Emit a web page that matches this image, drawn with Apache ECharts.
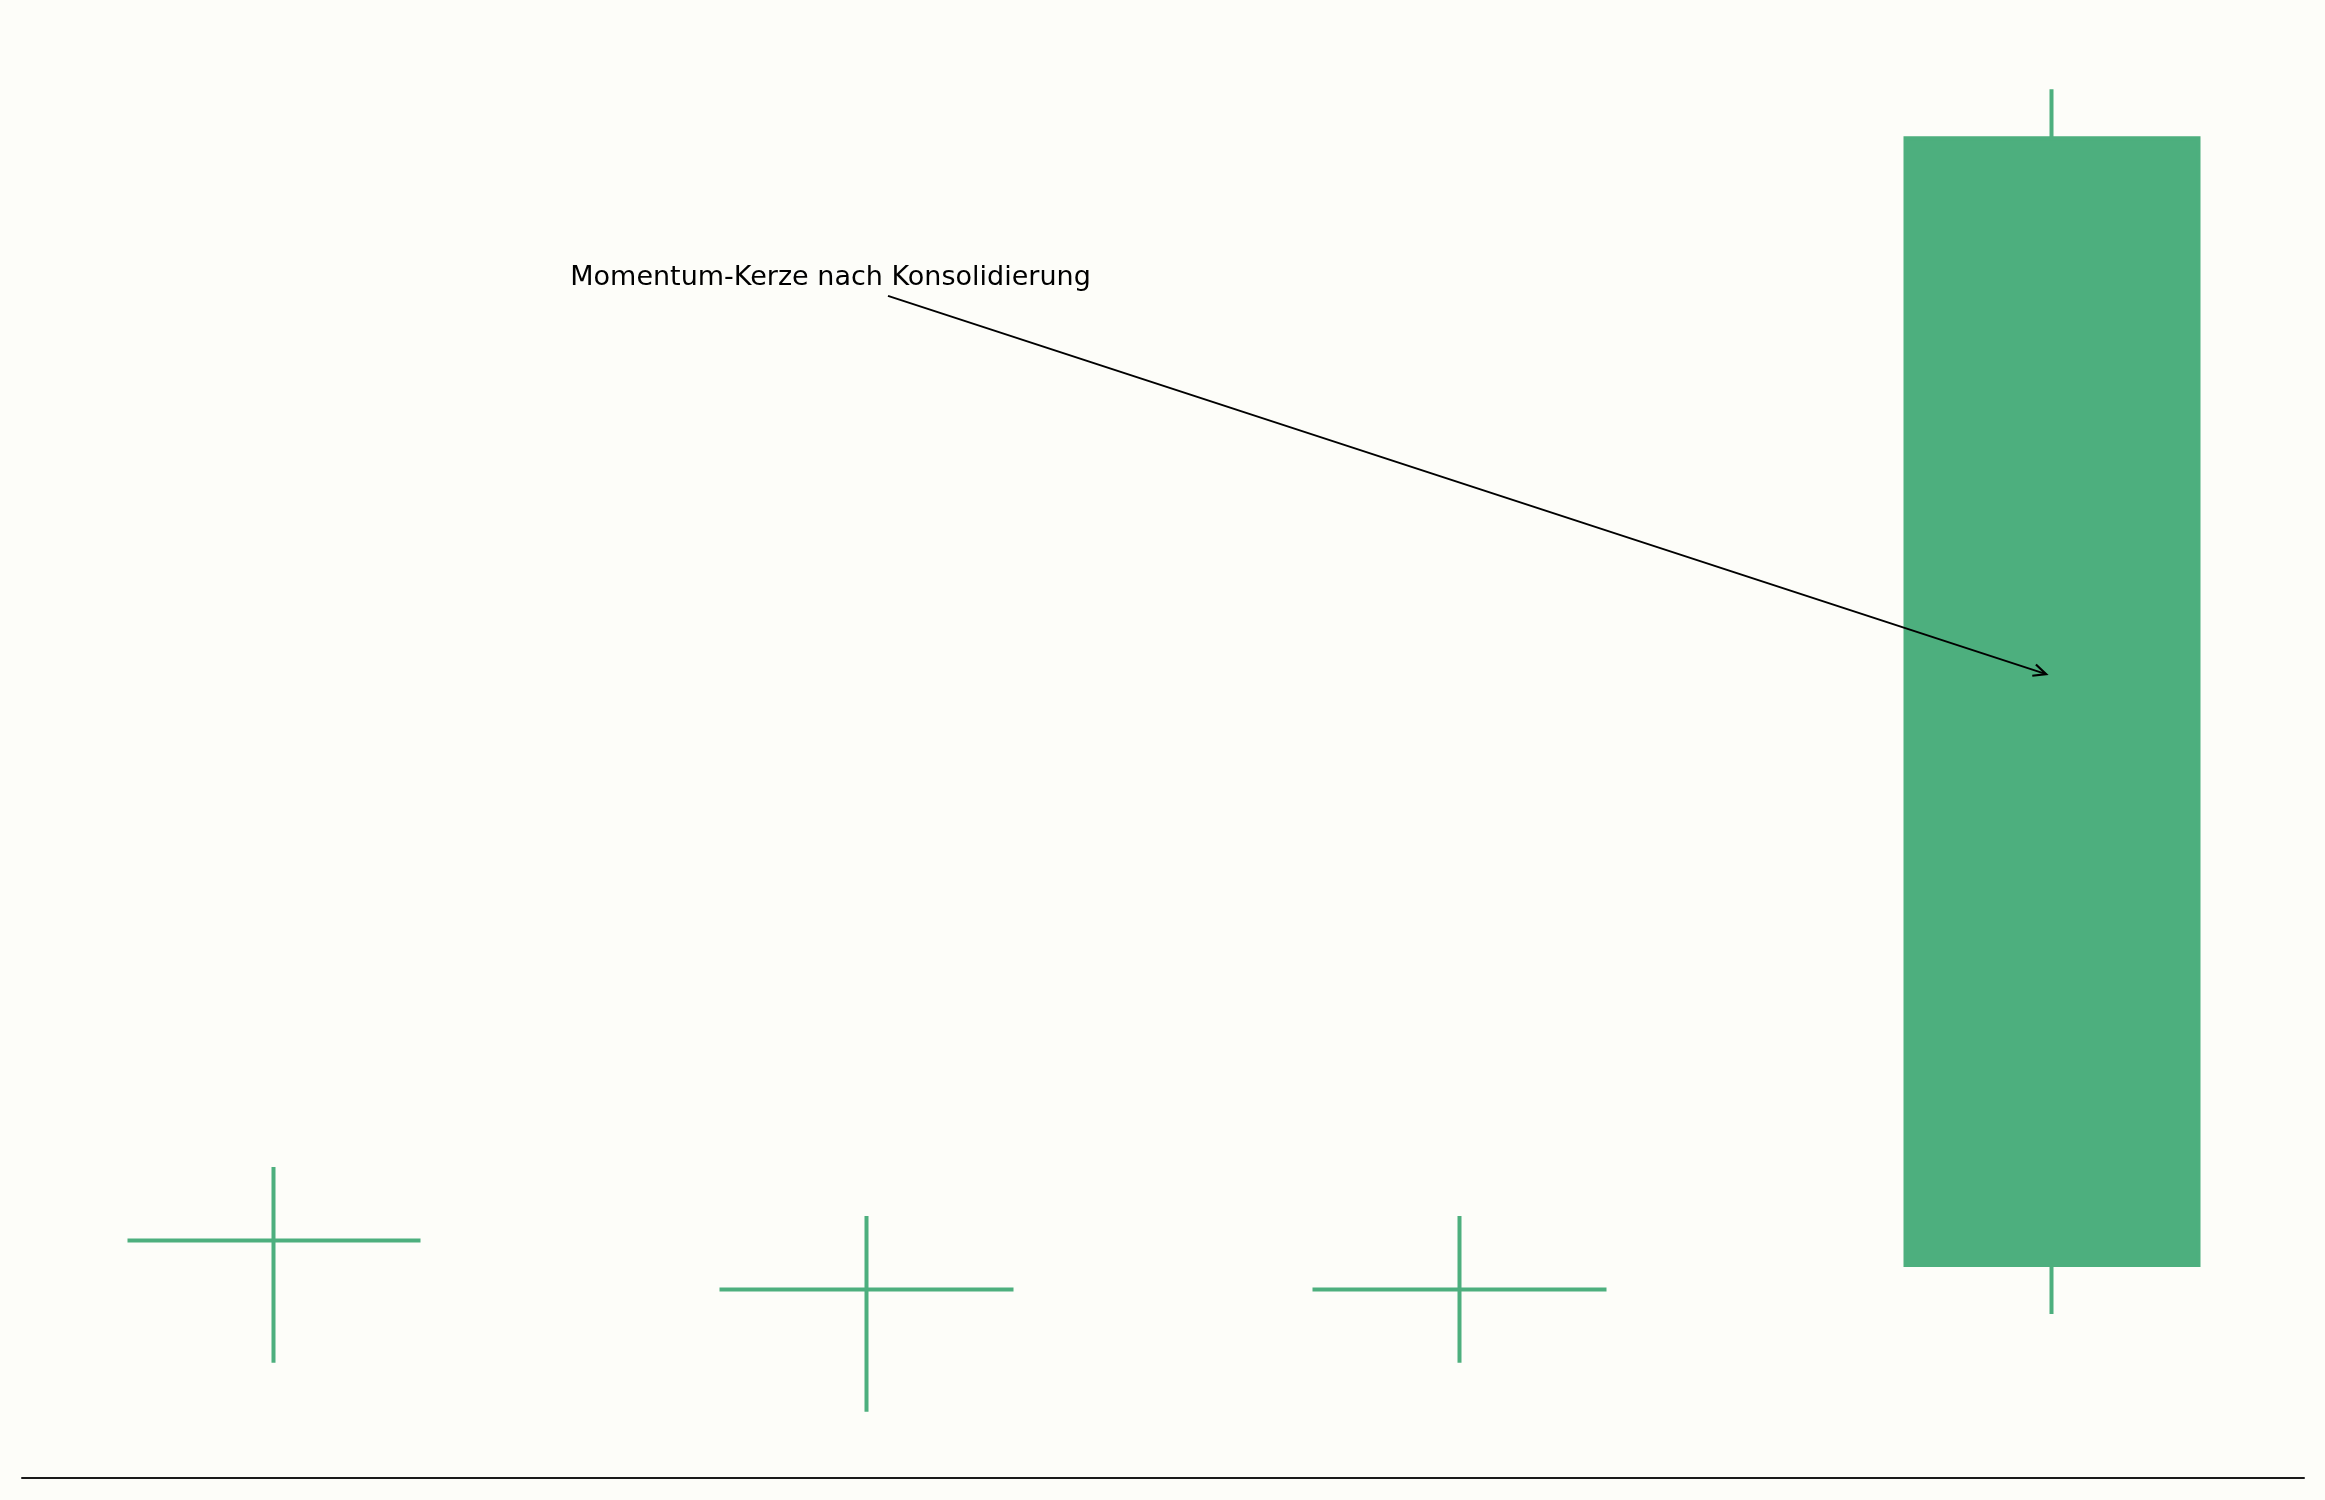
<!DOCTYPE html>
<html>
<head>
<meta charset="utf-8">
<title>Momentum-Kerze</title>
<script src="https://cdn.jsdelivr.net/npm/echarts@6.0.0/dist/echarts.min.js"></script>
<style>
  html, body { margin: 0; padding: 0; background: #fdfdf9; }
  #main { width: 2325px; height: 1500px; }
</style>
</head>
<body>
<div id="main"></div>
<script>
// Kerzen: Position, Eröffnung, Schluss, Tief, Hoch
const candleX = [0, 1, 2, 3];
const openValues = [101, 100, 100, 100.5];
const closeValues = [101, 100, 100, 123.5];
const lowValues = [98.5, 97.5, 98.5, 99.5];
const highValues = [102.5, 101.5, 101.5, 124.5];

// Achsenbereiche (inkl. Rand wie im Original)
const xRange = [-0.425, 3.425];
const yRange = [96.15, 125.85];

// Annotation
const annotationText = 'Momentum-Kerze nach Konsolidierung';
const annotationTextPos = [0.5, 120.5];
const arrowStart = [1.036, 120.28];
const arrowEnd = [2.99, 112.56];

const GREEN = '#4daf7e';

const chart = echarts.init(document.getElementById('main'));

const candleData = candleX.map((x, i) => [x, openValues[i], closeValues[i], lowValues[i], highValues[i]]);

const option = {
  backgroundColor: '#fdfdf9',
  animation: false,
  grid: { left: 22, right: 21, top: 23, bottom: 22 },
  xAxis: {
    type: 'value',
    min: xRange[0],
    max: xRange[1],
    axisLine: { show: true, lineStyle: { color: '#1a1a1a', width: 2 } },
    axisTick: { show: false },
    axisLabel: { show: false },
    splitLine: { show: false },
  },
  yAxis: {
    type: 'value',
    min: yRange[0],
    max: yRange[1],
    axisLine: { show: false },
    axisTick: { show: false },
    axisLabel: { show: false },
    splitLine: { show: false },
  },
  series: [
    {
      type: 'candlestick',
      data: candleData,
      barWidth: 294,
      itemStyle: {
        color: GREEN,
        color0: GREEN,
        borderColor: GREEN,
        borderColor0: GREEN,
        borderColorDoji: GREEN,
        borderWidth: 4,
      },
    },
  ],
};

chart.setOption(option);

// Text und Pfeil über die Skalen des Diagramms platzieren
const tp = chart.convertToPixel({ gridIndex: 0 }, annotationTextPos);
const p0 = chart.convertToPixel({ gridIndex: 0 }, arrowStart);
const p1 = chart.convertToPixel({ gridIndex: 0 }, arrowEnd);
const ang = Math.atan2(p1[1] - p0[1], p1[0] - p0[0]);
const armLen = 14;
const halfAngle = 25 * Math.PI / 180;
const arm1 = [p1[0] - armLen * Math.cos(ang - halfAngle), p1[1] - armLen * Math.sin(ang - halfAngle)];
const arm2 = [p1[0] - armLen * Math.cos(ang + halfAngle), p1[1] - armLen * Math.sin(ang + halfAngle)];

chart.setOption({
  graphic: [
    {
      type: 'text',
      z: 100,
      x: tp[0],
      y: tp[1] - 7,
      style: {
        text: annotationText,
        font: '27px "DejaVu Sans"',
        fill: '#000',
        align: 'left',
        verticalAlign: 'middle',
      },
    },
    {
      type: 'line',
      z: 100,
      shape: { x1: p0[0], y1: p0[1], x2: p1[0], y2: p1[1] },
      style: { stroke: '#000', lineWidth: 2 },
    },
    {
      type: 'polyline',
      z: 100,
      shape: { points: [arm1, p1, arm2] },
      style: { stroke: '#000', lineWidth: 2.2, fill: null },
    },
  ],
});
</script>
</body>
</html>
